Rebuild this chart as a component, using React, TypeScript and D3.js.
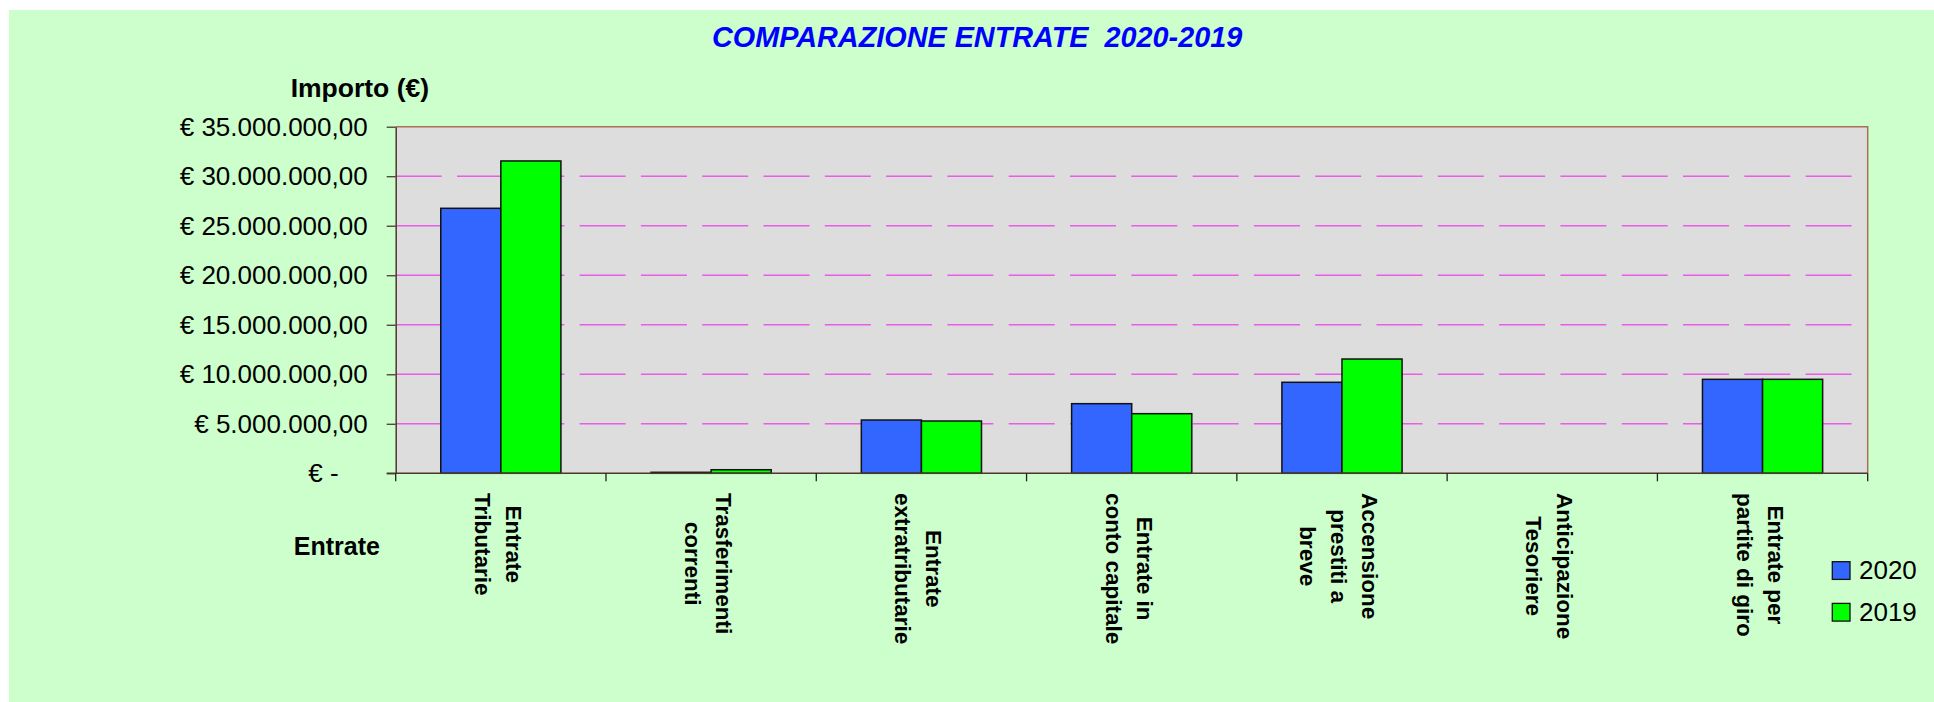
import React, { useEffect, useRef } from "react";
import * as d3 from "d3";

const categories = [
  "Entrate Tributarie",
  "Trasferimenti correnti",
  "Entrate extratributarie",
  "Entrate in conto capitale",
  "Accensione prestiti a breve",
  "Anticipazione Tesoriere",
  "Entrate per partite di giro",
];

const categoryLines = [
  ["Entrate", "Tributarie"],
  ["Trasferimenti", "correnti"],
  ["Entrate", "extratributarie"],
  ["Entrate in", "conto capitale"],
  ["Accensione", "prestiti a", "breve"],
  ["Anticipazione", "Tesoriere"],
  ["Entrate per", "partite di giro"],
];

const series = ["2020", "2019"];
const values2020 = [26760000, 100000, 5380000, 7030000, 9190000, 0, 9490000];
const values2019 = [31540000, 360000, 5280000, 6020000, 11540000, 0, 9490000];
const seriesColors = ["#3366ff", "#00ff00"];

const yTicks = [0, 5000000, 10000000, 15000000, 20000000, 25000000, 30000000, 35000000];

const FONT = "'Liberation Sans', Arial, sans-serif";

export default function App() {
  const ref = useRef<SVGSVGElement>(null);

  useEffect(() => {
    const svg = d3.select(ref.current);
    svg.selectAll("*").remove();

    const left = 395.7, right = 1867.7, top = 126.7, bottom = 473.3;

    const locale = d3.formatLocale({
      decimal: ",",
      thousands: ".",
      grouping: [3],
      currency: ["€ ", ""],
    });
    const fmt = locale.format("$,.2f");

    const x = d3.scaleBand().domain(categories).range([left, right]).paddingInner(0).paddingOuter(0);
    const xs = d3.scaleBand().domain(series).range([0, x.bandwidth()]).paddingInner(0).paddingOuter(0.75);
    const y = d3.scaleLinear().domain([0, 35000000]).range([bottom, top]);

    // background
    svg.append("rect")
      .attr("x", 9).attr("y", 10)
      .attr("width", 1934 - 9).attr("height", 702 - 10)
      .attr("fill", "#ccffcc");

    // plot area
    svg.append("rect")
      .attr("x", left).attr("y", top)
      .attr("width", right - left).attr("height", bottom - top)
      .attr("fill", "#dddddd");

    // gridlines
    svg.append("g")
      .selectAll("line")
      .data(yTicks.filter(t => t > 0 && t < 35000000))
      .enter()
      .append("line")
      .attr("x1", left).attr("x2", right)
      .attr("y1", d => y(d)).attr("y2", d => y(d))
      .attr("stroke", "#e85ee8")
      .attr("stroke-width", 1.5)
      .attr("stroke-dasharray", "46 15.3");

    // plot border top/right
    svg.append("path")
      .attr("d", `M${left},${top}H${right}V${bottom}`)
      .attr("fill", "none")
      .attr("stroke", "#a8705a")
      .attr("stroke-width", 1.5);

    // bars
    const rows = categories.map((c, i) => ({ c, v: [values2020[i], values2019[i]] }));
    const groups = svg.append("g")
      .selectAll("g")
      .data(rows)
      .enter()
      .append("g")
      .attr("transform", d => `translate(${x(d.c)},0)`);

    groups.selectAll("rect")
      .data(d => d.v.map((v, k) => ({ s: series[k], v, k })))
      .enter()
      .append("rect")
      .attr("x", d => xs(d.s) as number)
      .attr("width", xs.bandwidth())
      .attr("y", d => y(d.v))
      .attr("height", d => bottom - y(d.v))
      .attr("fill", d => seriesColors[d.k])
      .attr("stroke", "#111")
      .attr("stroke-width", 1.5);

    // y axis
    const yAxis = svg.append("g")
      .attr("transform", `translate(${left},0)`)
      .call(
        d3.axisLeft(y)
          .tickValues(yTicks)
          .tickSize(9)
          .tickSizeOuter(0)
          .tickPadding(19)
          .tickFormat(d => (+d === 0 ? "€ -" : fmt(+d)))
      );
    yAxis.select(".domain").attr("stroke", "#4a3a2a").attr("stroke-width", 1.5);
    yAxis.selectAll(".tick line").attr("stroke", "#4a3a2a").attr("stroke-width", 1.3);
    yAxis.selectAll(".tick text")
      .attr("font-family", FONT)
      .attr("font-size", 26)
      .attr("fill", "#000")
      .attr("dx", d => (+d === 0 ? -29 : 0));

    // x axis line and ticks between categories
    svg.append("line")
      .attr("x1", left - 9).attr("x2", right)
      .attr("y1", bottom).attr("y2", bottom)
      .attr("stroke", "#4a3a2a")
      .attr("stroke-width", 1.5);

    const bounds = categories.map(c => x(c) as number).concat([x.range()[1]]);
    svg.append("g")
      .selectAll("line")
      .data(bounds)
      .enter()
      .append("line")
      .attr("x1", d => d).attr("x2", d => d)
      .attr("y1", bottom).attr("y2", bottom + 8)
      .attr("stroke", "#222")
      .attr("stroke-width", 1.3);

    // category labels, rotated, lines centred on the longest one
    categoryLines.forEach((lines, i) => {
      const cx = (x(categories[i]) as number) + x.bandwidth() / 2;
      const g = svg.append("g").attr("transform", `translate(${cx},493) rotate(90)`);
      const n = lines.length;
      const texts = g.selectAll("text")
        .data(lines)
        .enter()
        .append("text")
        .attr("y", (d, j) => (j - (n - 1) / 2) * 31 + 10.5)
        .attr("font-family", FONT)
        .attr("font-size", 22.5)
        .attr("font-weight", "bold")
        .attr("fill", "#000")
        .text(d => d);
      const lens: number[] = [];
      texts.each(function () { lens.push((this as SVGTextElement).getComputedTextLength()); });
      const maxLen = d3.max(lens) || 0;
      texts.attr("x", (d, j) => (maxLen - lens[j]) / 2);
    });

    // title
    svg.append("text")
      .attr("x", 712)
      .attr("y", 47.3)
      .attr("font-family", FONT)
      .attr("font-size", 28.8)
      .attr("font-weight", "bold")
      .attr("font-style", "italic")
      .attr("fill", "#0000ff")
      .style("white-space", "pre")
      .text("COMPARAZIONE ENTRATE  2020-2019");

    // axis titles
    svg.append("text")
      .attr("x", 290.7).attr("y", 97.3)
      .attr("font-family", FONT).attr("font-size", 26.5).attr("font-weight", "bold")
      .text("Importo (€)");

    svg.append("text")
      .attr("x", 293.8).attr("y", 555)
      .attr("font-family", FONT).attr("font-size", 25).attr("font-weight", "bold")
      .text("Entrate");

    // legend
    const legend = svg.append("g")
      .selectAll("g")
      .data(series)
      .enter()
      .append("g")
      .attr("transform", (d, i) => `translate(1832.3,${561.7 + i * 41.7})`);
    legend.append("rect")
      .attr("width", 17.7).attr("height", 17.7)
      .attr("fill", (d, i) => seriesColors[i])
      .attr("stroke", "#111").attr("stroke-width", 1.3);
    legend.append("text")
      .attr("x", 26.7).attr("y", 17.5)
      .attr("font-family", FONT).attr("font-size", 26)
      .text(d => d);
  }, []);

  return (
    <div style={{ position: "absolute", left: 0, top: 0 }}>
      <svg ref={ref} width={1934} height={702} style={{ display: "block" }} />
    </div>
  );
}
